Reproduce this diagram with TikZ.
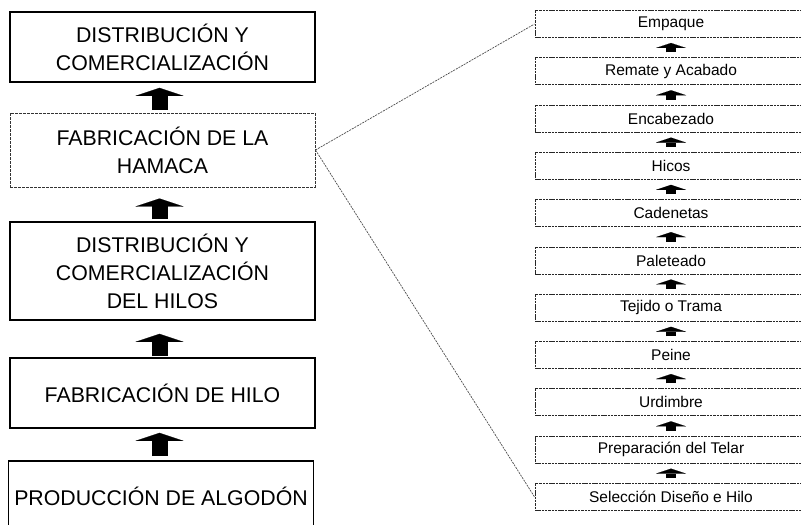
\documentclass[tikz,border=0pt]{standalone}
\usepackage{fontspec}
\setmainfont{Liberation Sans}
\usetikzlibrary{positioning,arrows.meta}

\begin{document}
\begin{tikzpicture}[x=1pt, y=-1pt,
  every node/.style={font=\fontsize{15.5}{17}\selectfont},
  stage/.style={draw, line width=1.8pt, minimum width=305pt, inner sep=0pt, align=center,
    font=\fontsize{21.3}{28}\selectfont},
  weave/.style={stage, draw=black!80, line width=1pt, dash pattern=on 3pt off 1pt},
  substep/.style={draw=black!85, line width=0.9pt, dash pattern=on 2.5pt off 0.8pt,
    minimum width=272pt, minimum height=27pt, inner sep=0pt},
  bigup/.style={line width=16pt, -{Triangle[width=48pt,length=8pt,line width=0.1pt]}},
  smallup/.style={line width=10pt, -{Triangle[width=30pt,length=5pt,line width=0.1pt]},
    shorten <=5pt, shorten >=5pt},
  link/.style={draw=black!70, line width=0.7pt, dash pattern=on 2pt off 1pt}]
  \useasboundingbox (0,0) rectangle (801,525);
  \clip (0,0) rectangle (801,525);
  % supply chain, bottom to top
  \node[stage, minimum height=70pt] (b1) at (162.5,47) {DISTRIBUCIÓN Y\\COMERCIALIZACIÓN};
  \node[weave, minimum height=74pt] (b2) at (162.5,150) {FABRICACIÓN DE LA\\HAMACA};
  \node[stage, minimum height=98pt] (b3) at (162.5,271) {DISTRIBUCIÓN Y\\COMERCIALIZACIÓN\\DEL HILOS};
  \node[stage, minimum height=70pt] (b4) at (162.5,393) {FABRICACIÓN DE HILO};
  \node[stage, minimum height=70pt] (b5) at (161,496) {PRODUCCIÓN DE ALGODÓN};
  \foreach \a/\b/\s/\e in {b2/b1/3pt/5pt, b3/b2/2pt/11pt, b4/b3/1pt/13pt, b5/b4/4pt/4pt}
    \draw[bigup, shorten <=\s, shorten >=\e] ([xshift=-3pt]\b.south |- \a.north) -- ([xshift=-3pt]\b.south);
  % steps of the hammock
  \foreach \i/\txt in {1/Empaque, 2/Remate y Acabado, 3/Encabezado, 4/Hicos, 5/Cadenetas,
      6/Paleteado, 7/Tejido o Trama, 8/Peine, 9/Urdimbre, 10/Preparación del Telar,
      11/Selección Diseño e Hilo}
    \node[substep] (r\i) at (671,{24+(\i-1)*47.3}) {\txt};
  \foreach \i in {1,...,10}
    { \pgfmathtruncatemacro\j{\i+1} \draw[smallup] (r\j.north) -- (r\i.south); }
  % zoom lines
  \draw[link] (b2.east) -- (r1.west);
  \draw[link] (b2.east) -- (r11.west);
\end{tikzpicture}
\end{document}
